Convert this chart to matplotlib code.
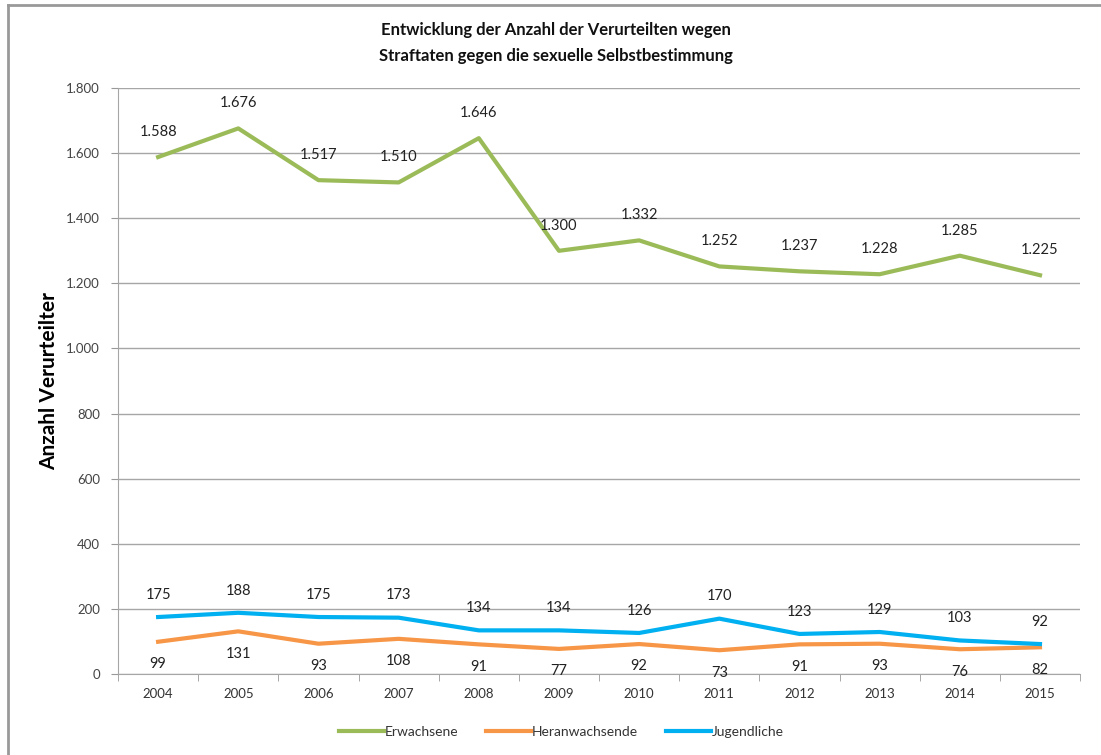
import matplotlib
matplotlib.use("Agg")
import matplotlib.pyplot as plt
from matplotlib.lines import Line2D
import numpy as np

years = ["2004", "2005", "2006", "2007", "2008", "2009", "2010", "2011", "2012", "2013", "2014", "2015"]
erwachsene = [1588, 1676, 1517, 1510, 1646, 1300, 1332, 1252, 1237, 1228, 1285, 1225]
heranwachsende = [99, 131, 93, 108, 91, 77, 92, 73, 91, 93, 76, 82]
jugendliche = [175, 188, 175, 173, 134, 134, 126, 170, 123, 129, 103, 92]
yticks = [0, 200, 400, 600, 800, 1000, 1200, 1400, 1600, 1800]
ytick_labels = ["0", "200", "400", "600", "800", "1.000", "1.200", "1.400", "1.600", "1.800"]

plt.rcParams['font.family'] = ['Lato', 'DejaVu Sans']

def fmt(v):
    return f"{v:,}".replace(",", ".")

fig = plt.figure(figsize=(11.01, 7.55), dpi=100)
ax = fig.add_axes([0.1072, 0.1073, 0.8738, 0.7761])

x = np.arange(len(years))
green = "#9BBB59"
orange = "#F79646"
blue = "#00B0F0"
lw = 3.0

ax.plot(x, erwachsene, color=green, lw=lw, solid_joinstyle='round', zorder=3)
ax.plot(x, heranwachsende, color=orange, lw=lw, solid_joinstyle='round', zorder=3)
ax.plot(x, jugendliche, color=blue, lw=lw, solid_joinstyle='round', zorder=4)

for i, v in enumerate(erwachsene):
    ax.annotate(fmt(v), (x[i], v), xytext=(0, 13), textcoords='offset points',
                ha='center', va='bottom', fontsize=10.5, color='#222222')
for i, v in enumerate(jugendliche):
    ax.annotate(fmt(v), (x[i], v), xytext=(0, 11), textcoords='offset points',
                ha='center', va='bottom', fontsize=10.5, color='#222222')
for i, v in enumerate(heranwachsende):
    ax.annotate(fmt(v), (x[i], v), xytext=(0, -11), textcoords='offset points',
                ha='center', va='top', fontsize=10.5, color='#222222')

ax.set_xlim(-0.5, len(years) - 0.5)
ax.set_ylim(0, 1800)
ax.set_yticks(yticks)
ax.set_yticklabels(ytick_labels, fontsize=9.5, color='#444444')
ax.set_xticks(x)
ax.set_xticklabels(years, fontsize=9.5, color='#333333')
ax.set_xticks(np.arange(-0.5, len(years), 1), minor=True)
ax.tick_params(axis='x', which='major', length=0, pad=10)
ax.tick_params(axis='x', which='minor', length=5, color='#999999', direction='out')
ax.tick_params(axis='y', length=5, color='#999999', pad=8)
ax.yaxis.grid(True, color='#A6A6A6', lw=1)
ax.set_axisbelow(True)
for s in ['top', 'right']:
    ax.spines[s].set_visible(False)
for s in ['left', 'bottom']:
    ax.spines[s].set_color('#A6A6A6')

ax.set_ylabel("Anzahl Verurteilter", fontsize=15, fontweight='bold', labelpad=5)

fig.text(0.505, 0.960, "Entwicklung der Anzahl der Verurteilten wegen", ha='center', va='center',
         fontsize=12, fontweight='bold', color='#111111')
fig.text(0.505, 0.926, "Straftaten gegen die sexuelle Selbstbestimmung", ha='center', va='center',
         fontsize=12, fontweight='bold', color='#111111')

handles = [Line2D([0], [0], color=green, lw=lw),
           Line2D([0], [0], color=orange, lw=lw),
           Line2D([0], [0], color=blue, lw=lw)]
fig.legend(handles, ["Erwachsene", "Heranwachsende", "Jugendliche"], loc='center',
           bbox_to_anchor=(0.51, 0.030), ncol=3, frameon=False, fontsize=10,
           handlelength=3.2, handletextpad=0.1, columnspacing=2.0, labelcolor='#333333')

# outer frame lines
fig.add_artist(Line2D([0.0075, 0.0075], [0, 0.993], color='#999999', lw=2, transform=fig.transFigure))
fig.add_artist(Line2D([0.0075, 1.0], [0.993, 0.993], color='#999999', lw=2, transform=fig.transFigure))

fig.savefig("out.png", dpi=100)
